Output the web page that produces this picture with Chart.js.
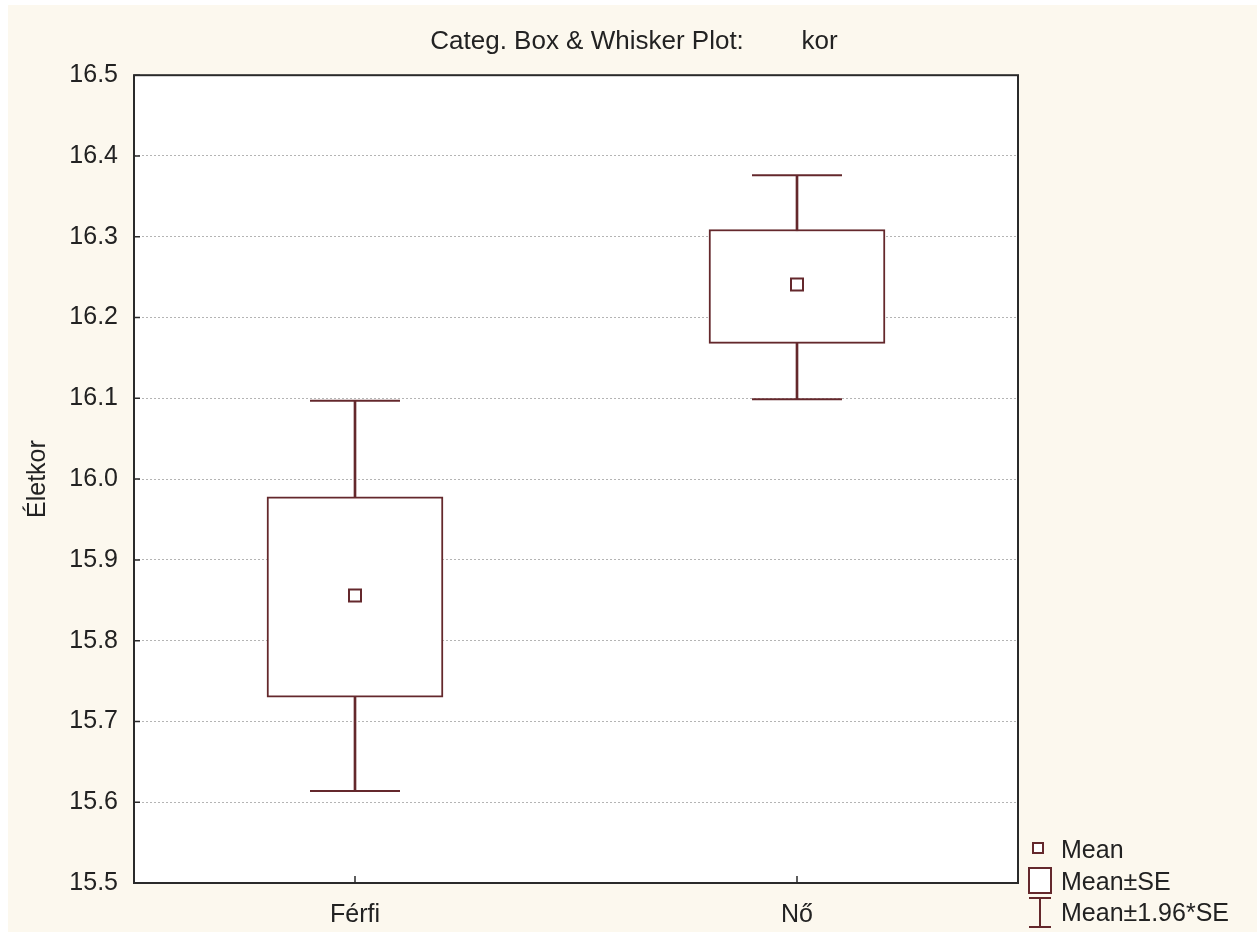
<!DOCTYPE html>
<html>
<head>
<meta charset="utf-8">
<script src="https://cdn.jsdelivr.net/npm/chart.js@4/dist/chart.umd.min.js"></script>
<style>
  html, body { margin: 0; padding: 0; background: #fff; }
  #wrap { position: relative; width: 1257px; height: 935px; }
  canvas { display: block; }
  .key { position: absolute; font-family: "Liberation Sans", Arial, sans-serif; font-size: 25px; line-height: 30px; color: #222; white-space: nowrap; }
  .icon { position: absolute; }
</style>
</head>
<body>
<div id="wrap">
  <canvas id="chart" width="1257" height="935"></canvas>

  <svg class="icon" style="left:1032px;top:842px" width="12" height="12">
    <rect x="1" y="1" width="10" height="10" fill="#fff" stroke="#64282c" stroke-width="2"/>
  </svg>
  <div class="key" style="left:1061px;top:834px">Mean</div>

  <svg class="icon" style="left:1028px;top:867px" width="25" height="28">
    <rect x="1" y="1" width="22" height="25" fill="#fff" stroke="#64282c" stroke-width="2"/>
  </svg>
  <div class="key" style="left:1061px;top:866px">Mean±SE</div>

  <svg class="icon" style="left:1028px;top:897px" width="25" height="32">
    <path d="M1 1 H23 M12 1 V30 M1 30 H23" fill="none" stroke="#64282c" stroke-width="2"/>
  </svg>
  <div class="key" style="left:1061px;top:897px">Mean±1.96*SE</div>
</div>

<script>
// Groups and their summary statistics (Életkor)
const categories = ['Férfi', 'Nő'];
const means  = [15.856, 16.241];
const seLow  = [15.730, 16.168];   // mean - SE
const seHigh = [15.978, 16.309];   // mean + SE
const ciLow  = [15.614, 16.099];   // mean - 1.96*SE
const ciHigh = [16.097, 16.376];   // mean + 1.96*SE

// Value axis
const yMin = 15.5;
const yMax = 16.5;
const yStep = 0.1;

const MAROON = '#64282c';
const CREAM = '#fcf8ee';
const FONT = '"Liberation Sans", Arial, sans-serif';

// Page background, white plot area, plot frame and short inward ticks
const plotFrame = {
  id: 'plotFrame',
  beforeDraw(chart) {
    const { ctx, chartArea: a, width, height } = chart;
    ctx.save();
    ctx.fillStyle = '#fff';
    ctx.fillRect(0, 0, width, height);
    ctx.fillStyle = CREAM;
    ctx.fillRect(8, 5, width - 8, height - 8);
    ctx.fillStyle = '#fff';
    ctx.fillRect(a.left, a.top, a.right - a.left, a.bottom - a.top);
    ctx.restore();
  },
  afterDatasetsDraw(chart) {
    const { ctx, chartArea: a, scales } = chart;
    ctx.save();
    ctx.strokeStyle = '#2a2a2a';
    ctx.lineWidth = 2;
    ctx.strokeRect(a.left, a.top, a.right - a.left, a.bottom - a.top);
    ctx.lineWidth = 1.5;
    ctx.beginPath();
    scales.y.ticks.forEach((t, i) => {
      const y = scales.y.getPixelForTick(i);
      ctx.moveTo(a.left, y);
      ctx.lineTo(a.left + 6, y);
    });
    scales.x.ticks.forEach((t, i) => {
      const x = scales.x.getPixelForTick(i);
      ctx.moveTo(x, a.bottom);
      ctx.lineTo(x, a.bottom - 7);
    });
    ctx.stroke();
    ctx.restore();
  }
};

new Chart(document.getElementById('chart'), {
  type: 'bar',
  data: {
    labels: categories,
    datasets: [
      {
        label: 'whisker',
        type: 'bar',
        data: categories.map((_, i) => [ciLow[i], ciHigh[i]]),
        backgroundColor: MAROON,
        borderWidth: 0,
        barThickness: 2,
        grouped: false,
        order: 4
      },
      {
        label: 'Mean±SE',
        type: 'bar',
        data: categories.map((_, i) => [seLow[i], seHigh[i]]),
        backgroundColor: '#fff',
        borderColor: MAROON,
        borderWidth: 2,
        borderSkipped: false,
        barThickness: 176,
        grouped: false,
        order: 3
      },
      {
        label: 'upper cap',
        type: 'line',
        data: ciHigh,
        showLine: false,
        pointStyle: 'line',
        pointRadius: 45,
        pointBorderWidth: 2,
        pointBorderColor: MAROON,
        order: 2
      },
      {
        label: 'lower cap',
        type: 'line',
        data: ciLow,
        showLine: false,
        pointStyle: 'line',
        pointRadius: 45,
        pointBorderWidth: 2,
        pointBorderColor: MAROON,
        order: 2
      },
      {
        label: 'Mean',
        type: 'line',
        data: means,
        showLine: false,
        pointStyle: 'rect',
        pointRadius: 8.5,
        pointBackgroundColor: '#fff',
        pointBorderColor: MAROON,
        pointBorderWidth: 2,
        order: 0
      }
    ]
  },
  options: {
    responsive: false,
    animation: false,
    events: [],
    layout: { padding: { left: 11, right: 0, top: 0, bottom: 0 } },
    plugins: {
      legend: { display: false },
      tooltip: { enabled: false },
      title: {
        display: true,
        text: 'Categ. Box & Whisker Plot:        kor',
        color: '#222',
        font: { family: FONT, size: 26, weight: 'normal' },
        padding: { top: 26, bottom: 18 }
      }
    },
    scales: {
      x: {
        type: 'category',
        offset: true,
        grid: { display: false, drawTicks: false },
        border: { display: false },
        ticks: { color: '#222', padding: 17, font: { family: FONT, size: 25 } },
        afterFit(scale) { scale.height = 52; }
      },
      y: {
        type: 'linear',
        position: 'left',
        min: yMin,
        max: yMax,
        grid: { color: '#b4b4b4', lineWidth: 1, drawTicks: false },
        border: { display: false, dash: [2, 2] },
        ticks: {
          stepSize: yStep,
          padding: 16,
          color: '#222',
          font: { family: FONT, size: 25 },
          callback: (v) => Number(v).toFixed(1)
        },
        title: {
          display: true,
          text: 'Életkor',
          color: '#222',
          font: { family: FONT, size: 25 },
          padding: { top: 12, bottom: 0 }
        },
        afterFit(scale) { scale.width = 123; }
      },
      side: {
        type: 'linear',
        axis: 'y',
        position: 'right',
        display: true,
        grid: { display: false, drawTicks: false },
        border: { display: false },
        ticks: { display: false },
        afterFit(scale) { scale.width = 239; }
      }
    }
  },
  plugins: [plotFrame]
});
</script>
</body>
</html>
